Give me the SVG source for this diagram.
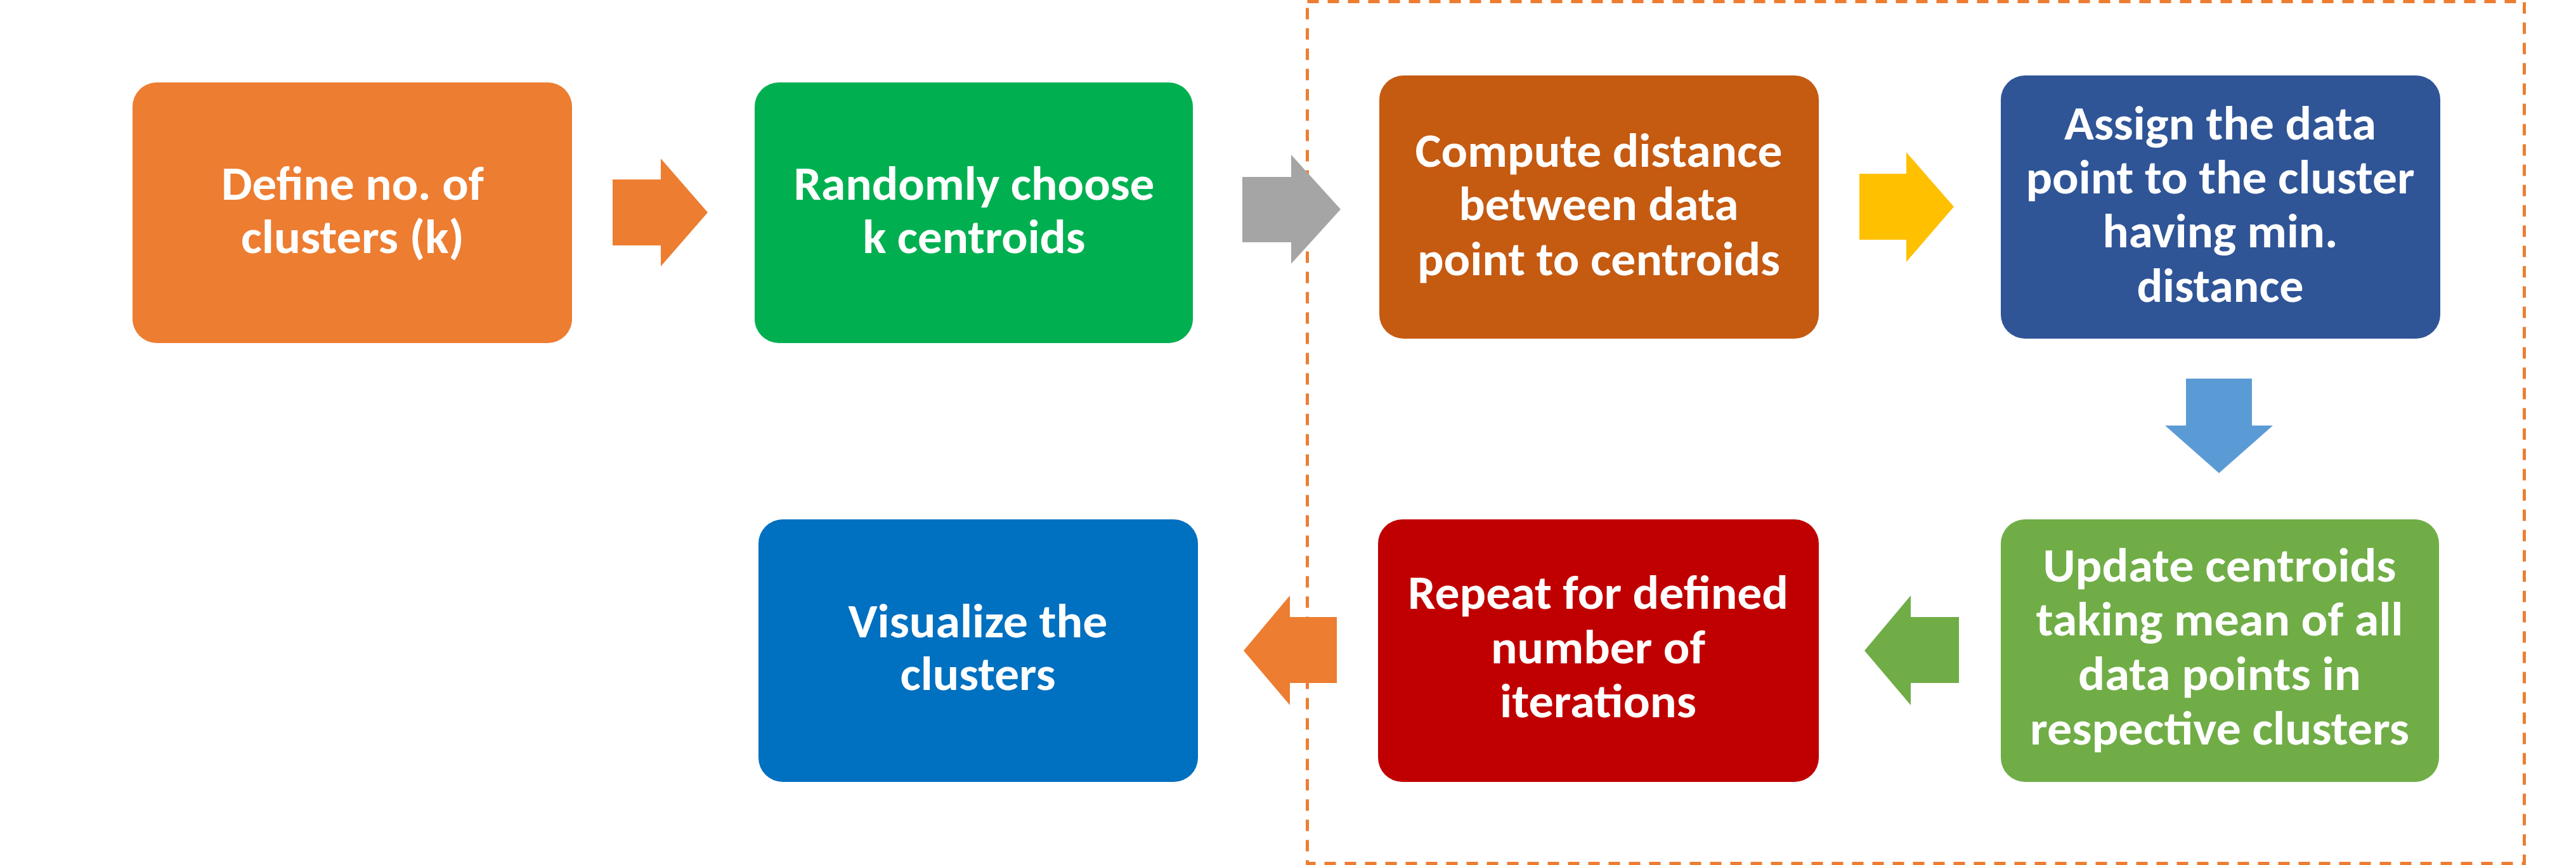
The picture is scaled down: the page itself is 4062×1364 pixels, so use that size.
<svg xmlns="http://www.w3.org/2000/svg" width="4062" height="1364" viewBox="0 0 4062 1364">
<style>
.box text{font-family:Carlito,"Open Sans","Liberation Sans",sans-serif;font-weight:bold;font-size:74px;fill:#FFFFFF;text-anchor:middle}
.frame{fill:none;stroke:#ED7D31;stroke-width:5;stroke-dasharray:18 14}
</style>
<rect width="4062" height="1364" fill="#FFFFFF"/>
<rect class="frame" x="2061.5" y="2.5" width="1919" height="1359"/>
<g id="n1" class="box">
<rect x="209" y="130" width="693" height="411" rx="38" fill="#ED7D31"/>
<text x="556" y="315" textLength="414" lengthAdjust="spacingAndGlyphs">Define no. of</text>
<text x="556" y="399" textLength="352" lengthAdjust="spacingAndGlyphs">clusters (k)</text>
</g>
<g id="n2" class="box">
<rect x="1190" y="130" width="691" height="411" rx="38" fill="#00B050"/>
<text x="1536" y="315" textLength="569" lengthAdjust="spacingAndGlyphs">Randomly choose</text>
<text x="1536" y="399" textLength="351" lengthAdjust="spacingAndGlyphs">k centroids</text>
</g>
<g id="n3" class="box">
<rect x="2175" y="119" width="693" height="415" rx="38" fill="#C55A11"/>
<text x="2521" y="263" textLength="579" lengthAdjust="spacingAndGlyphs">Compute distance</text>
<text x="2521" y="347" textLength="441" lengthAdjust="spacingAndGlyphs">between data</text>
<text x="2521" y="434" textLength="572" lengthAdjust="spacingAndGlyphs">point to centroids</text>
</g>
<g id="n4" class="box">
<rect x="3155" y="119" width="693" height="415" rx="38" fill="#2F5597"/>
<text x="3501" y="220" textLength="492" lengthAdjust="spacingAndGlyphs">Assign the data</text>
<text x="3501" y="305" textLength="613" lengthAdjust="spacingAndGlyphs">point to the cluster</text>
<text x="3501" y="390" textLength="371" lengthAdjust="spacingAndGlyphs">having min.</text>
<text x="3501" y="476" textLength="263" lengthAdjust="spacingAndGlyphs">distance</text>
</g>
<g id="n5" class="box">
<rect x="3155" y="819" width="691" height="414" rx="38" fill="#70AD47"/>
<text x="3500" y="917" textLength="557" lengthAdjust="spacingAndGlyphs">Update centroids</text>
<text x="3500" y="1002" textLength="579" lengthAdjust="spacingAndGlyphs">taking mean of all</text>
<text x="3500" y="1088" textLength="446" lengthAdjust="spacingAndGlyphs">data points in</text>
<text x="3500" y="1174" textLength="598" lengthAdjust="spacingAndGlyphs">respective clusters</text>
</g>
<g id="n6" class="box">
<rect x="2173" y="819" width="695" height="414" rx="38" fill="#C00000"/>
<text x="2520" y="960" textLength="600" lengthAdjust="spacingAndGlyphs">Repeat for defined</text>
<text x="2520" y="1046" textLength="338" lengthAdjust="spacingAndGlyphs">number of</text>
<text x="2520" y="1131" textLength="310" lengthAdjust="spacingAndGlyphs">iterations</text>
</g>
<g id="n7" class="box">
<rect x="1196" y="819" width="693" height="414" rx="38" fill="#0070C0"/>
<text x="1542" y="1005" textLength="409" lengthAdjust="spacingAndGlyphs">Visualize the</text>
<text x="1542" y="1088" textLength="245" lengthAdjust="spacingAndGlyphs">clusters</text>
</g>
<g id="connectors">
<polygon points="966,283 1042,283 1042,250 1116,335 1042,420 1042,387 966,387" fill="#ED7D31"/>
<polygon points="1959,279 2036,279 2036,244 2114,330 2036,416 2036,382 1959,382" fill="#A5A5A5"/>
<polygon points="2932,274 3006,274 3006,240 3081,326 3006,413 3006,378 2932,378" fill="#FFC000"/>
<polygon points="3447,597 3551,597 3551,671 3584,671 3499,746 3414,671 3447,671" fill="#5B9BD5"/>
<polygon points="3089,973 3013,973 3013,939 2940,1026 3013,1112 3013,1077 3089,1077" fill="#70AD47"/>
<polygon points="2108,973 2034,973 2034,939 1961,1026 2034,1112 2034,1077 2108,1077" fill="#ED7D31"/>
</g>
</svg>
